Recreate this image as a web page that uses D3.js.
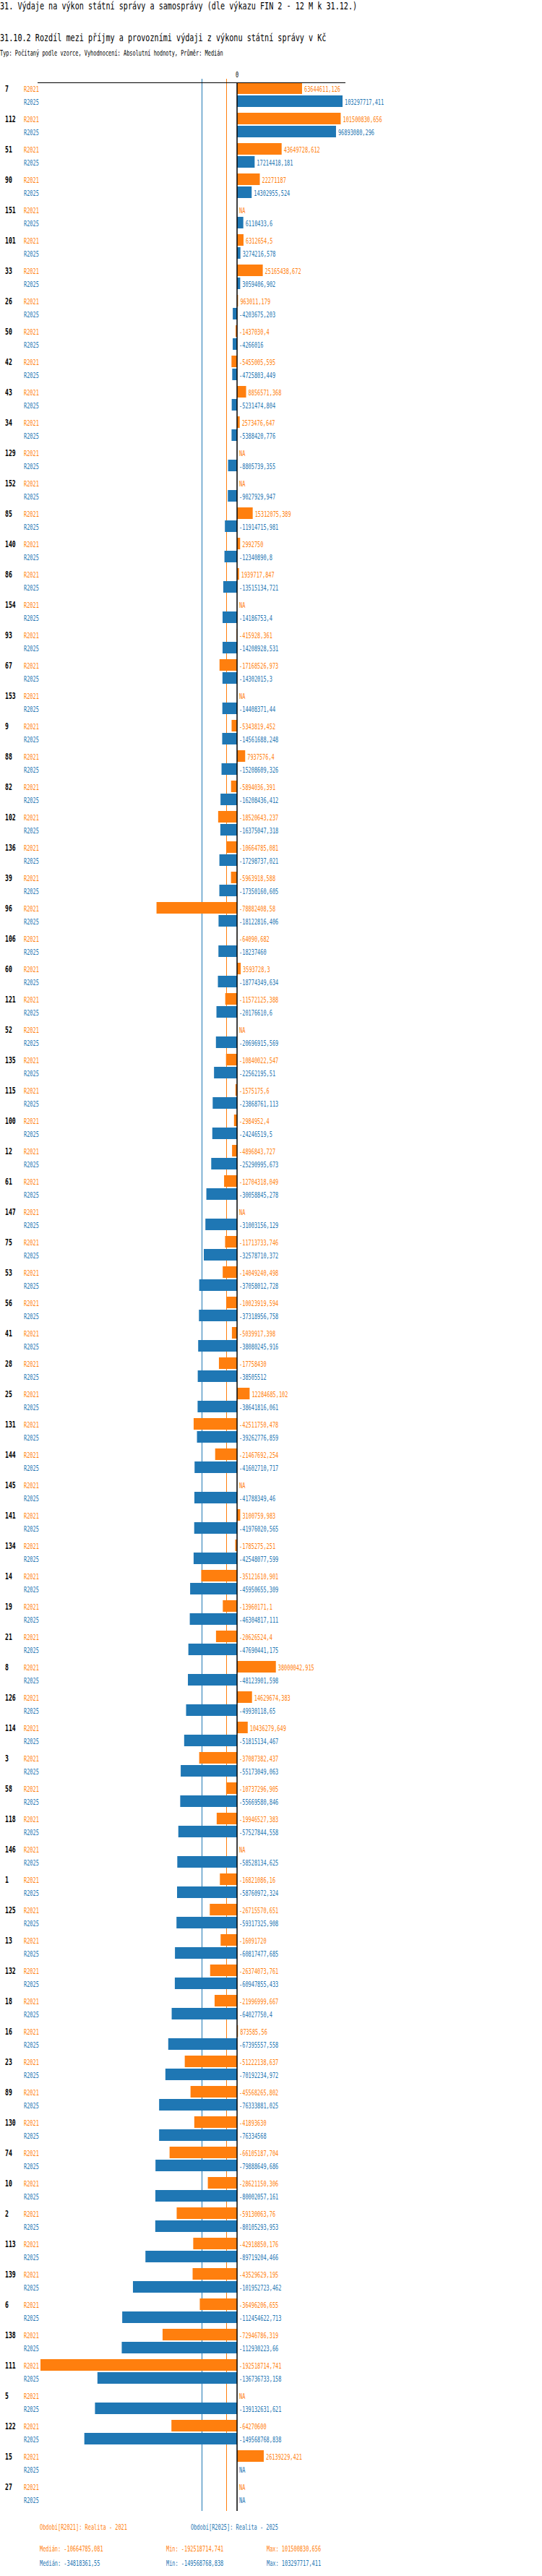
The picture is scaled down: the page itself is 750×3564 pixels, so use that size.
<!DOCTYPE html>
<html>
<head>
<meta charset="utf-8">
<script src="https://cdn.jsdelivr.net/npm/d3@7"></script>
<style>
  body { margin: 0; background: #fff; }
  text { font-family: "DejaVu Sans Mono", monospace; }
</style>
</head>
<body>
<div id="chart"></div>
<script>
// categories in drawing order (sorted by R2025)
var categories = ["7","112","51","90","151","101","33","26","50","42","43","34","129","152","85","140",
    "86","154","93","67","153","9","88","82","102","136","39","96","106","60","121","52",
    "135","115","100","12","61","147","75","53","56","41","28","25","131","144","145","141",
    "134","14","19","21","8","126","114","3","58","118","146","1","125","13","132","18",
    "16","23","89","130","74","10","2","113","139","6","138","111","5","122","15","27"];

var seriesNames = ["R2021", "R2025"];

var r2021 = [63644611.126, 101500830.656, 43649728.612, 22271187, null, 6312654.5, 25165438.672, 963011.179,
    -1437030.4, -5455005.595, 8856571.368, 2573476.647, null, null, 15312075.389, 2992750,
    1939717.847, null, -415928.361, -17168526.973, null, -5343819.452, 7937576.4, -5894036.391,
    -18520643.237, -10664785.081, -5963918.588, -78882408.58, -64090.682, 3593728.3, -11572125.388, null,
    -10840022.547, -1575175.6, -2984952.4, -4896843.727, -12704318.049, null, -11713733.746, -14049240.498,
    -10023919.594, -5039917.398, -17758430, 12284685.102, -42511750.478, -21467692.254, null, 3100759.983,
    -1785275.251, -35121610.901, -13960171.1, -20626524.4, 38000042.915, 14629674.383, 10436279.649, -37087382.437,
    -10737296.905, -19946527.383, null, -16821086.16, -26715570.651, -16091720, -26374073.761, -21996999.667,
    873585.56, -51222138.637, -45568265.802, -41893630, -66105187.704, -28621150.306, -59130063.76, -42918850.176,
    -43529629.195, -36496206.655, -72946786.319, -192518714.741, null, -64270600, 26139229.421, null];

var r2025 = [103297717.411, 96893080.296, 17214418.181, 14302955.524, 6110433.6, 3274216.578, 3059406.902, -4203675.203,
    -4266016, -4725803.449, -5231474.804, -5388420.776, -8805739.355, -9027929.947, -11914715.981, -12340890.8,
    -13515134.721, -14186753.4, -14208928.531, -14302015.3, -14408371.44, -14561688.248, -15208609.326, -16208436.412,
    -16375047.318, -17298737.021, -17350160.605, -18122816.406, -18237460, -18774349.634, -20176610.6, -20696915.569,
    -22562195.51, -23868761.113, -24246519.5, -25290995.673, -30058845.278, -31003156.129, -32578710.372, -37058012.728,
    -37318956.758, -38080245.916, -38505512, -38641816.061, -39262776.859, -41602710.717, -41788349.46, -41976020.565,
    -42548077.599, -45950655.309, -46304817.111, -47690441.175, -48123901.598, -49930118.65, -51815134.467, -55173049.063,
    -55669580.846, -57527844.558, -58528134.625, -58760972.324, -59317325.908, -60817477.685, -60947855.433, -64027750.4,
    -67395557.558, -70192234.972, -76333881.025, -76334568, -79888649.686, -80002057.161, -80105293.953, -89719204.466,
    -101952723.462, -112454622.713, -112930223.66, -136736733.158, -139132631.621, -149568768.838, null, null];

var legendTexts = ["Období[R2021]: Realita - 2021", "Období[R2025]: Realita - 2025"];

function init() {
    var w = 750;
    var h = 3564;
    var orange = "#ff7f0e";
    var blue = "#1f77b4";
    var colors = { R2021: orange, R2025: blue };
    var values = { R2021: r2021, R2025: r2025 };

    var svg = d3.select("#chart")
        .append("svg")
        .attr("width", w)
        .attr("height", h);

    // small condensed mono text, like the original bitmap font
    function txt(x, y, s, size, sx, color, bold, anchor) {
        return svg.append("text")
            .attr("transform", "translate(" + x + "," + y + ") scale(" + sx + ",1)")
            .attr("text-anchor", anchor || "start")
            .style("font-size", size + "px")
            .style("font-weight", bold ? "bold" : "normal")
            .attr("fill", color)
            .text(s);
    }

    function fmt(v) {
        if (v == null) return "NA";
        return String(+v.toFixed(3)).replace(".", ",");
    }

    txt(0, 13, "31. Výdaje na výkon státní správy a samosprávy (dle výkazu FIN 2 - 12 M k 31.12.)", 14, 0.724, "#000");
    txt(0, 57, "31.10.2 Rozdíl mezi příjmy a provozními výdaji z výkonu státní správy v Kč", 14, 0.724, "#000");
    txt(0, 77, "Typ: Počítaný podle vzorce, Vyhodnocení: Absolutní hodnoty, Průměr: Medián", 11, 0.63, "#000");

    var all = r2021.concat(r2025);
    var x = d3.scaleLinear()
        .domain([d3.min(all), d3.max(all)])
        .range([56, 474]);

    var y = d3.scaleBand()
        .domain(categories)
        .range([114, 114 + 42 * categories.length]);

    var ySub = d3.scaleBand()
        .domain(seriesNames)
        .range([0, 34])
        .paddingInner(1 / 9);

    var bottom = y.range()[1];

    // median lines (behind the bars)
    seriesNames.forEach(function (s) {
        var m = d3.median(values[s]);
        svg.append("line")
            .attr("x1", Math.round(x(m)) + 0.5).attr("x2", Math.round(x(m)) + 0.5)
            .attr("y1", 109).attr("y2", bottom)
            .attr("stroke", colors[s]).attr("stroke-width", 1);
    });

    var rows = [];
    categories.forEach(function (c, i) {
        seriesNames.forEach(function (s) {
            rows.push({ cat: c, series: s, value: values[s][i] });
        });
    });

    svg.selectAll("rect.bar")
        .data(rows.filter(function (d) { return d.value != null; }))
        .enter()
        .append("rect")
        .attr("class", "bar")
        .attr("x", function (d) { return Math.min(x(0), x(d.value)); })
        .attr("width", function (d) { return Math.abs(x(d.value) - x(0)); })
        .attr("y", function (d) { return y(d.cat) + ySub(d.series); })
        .attr("height", ySub.bandwidth())
        .attr("fill", function (d) { return colors[d.series]; });

    // axis
    svg.append("line")
        .attr("x1", 52).attr("x2", 478).attr("y1", 114.5).attr("y2", 114.5)
        .attr("stroke", "#000").attr("stroke-width", 1);
    svg.append("line")
        .attr("x1", x(0)).attr("x2", x(0)).attr("y1", 114).attr("y2", bottom)
        .attr("stroke", "#000").attr("stroke-width", 1.5);
    txt(x(0), 107, "0", 11, 0.63, "#000", false, "middle");

    categories.forEach(function (c) {
        txt(7, y(c) + 13, c, 12, 0.68, "#000", true);
    });

    rows.forEach(function (d) {
        var yy = y(d.cat) + ySub(d.series) + 13;
        txt(33, yy, d.series, 11, 0.63, colors[d.series]);
        var vx = (d.value != null && d.value > 0 ? x(d.value) : x(0)) + 3;
        txt(vx, yy, fmt(d.value), 11, 0.63, colors[d.series]);
    });

    // legend and stats
    txt(55, 3500, legendTexts[0], 11, 0.63, orange);
    txt(264, 3500, legendTexts[1], 11, 0.63, blue);
    seriesNames.forEach(function (s, i) {
        var yy = 3530 + i * 20;
        txt(55, yy, "Medián: " + fmt(d3.median(values[s])), 11, 0.63, colors[s]);
        txt(230, yy, "Min: " + fmt(d3.min(values[s])), 11, 0.63, colors[s]);
        txt(369, yy, "Max: " + fmt(d3.max(values[s])), 11, 0.63, colors[s]);
    });
}

window.onload = init;
</script>
</body>
</html>
